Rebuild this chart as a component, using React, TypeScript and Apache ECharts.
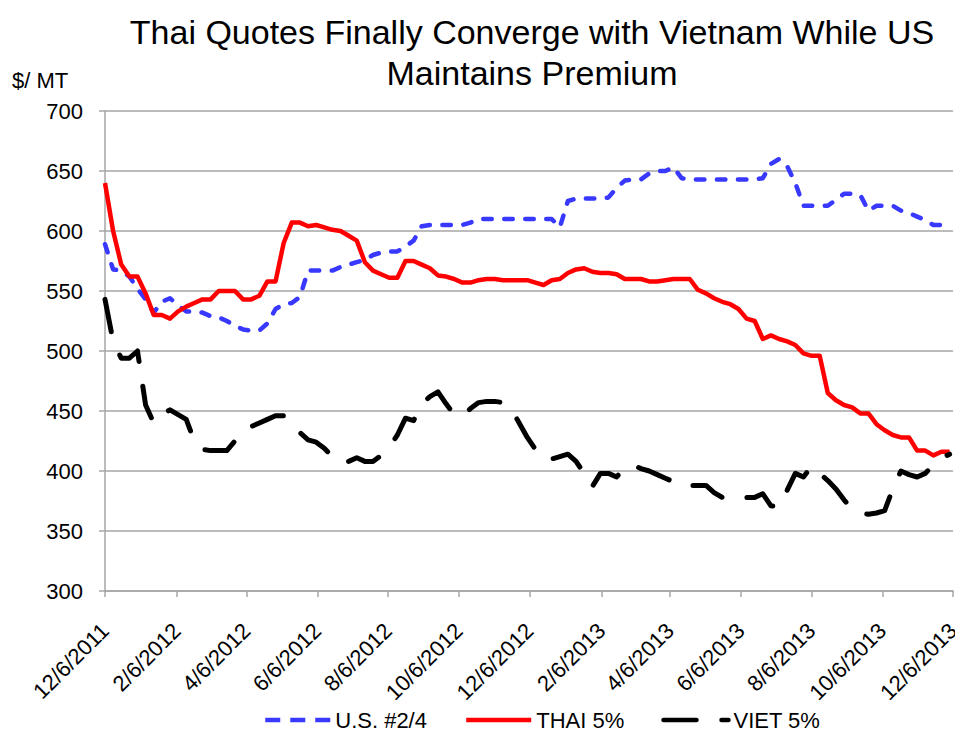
import React, { useEffect, useRef } from "react";
import * as echarts from "echarts";

// First quote date and weekly cadence of the series
const firstQuote = { year: 2011, month: 12, day: 6 };
const weeksShown = 105;

const tickLabels = [
  "12/6/2011", "2/6/2012", "4/6/2012", "6/6/2012", "8/6/2012", "10/6/2012",
  "12/6/2012", "2/6/2013", "4/6/2013", "6/6/2013", "8/6/2013", "10/6/2013", "12/6/2013",
];

const yTicks = { min: 300, max: 700, step: 50 };

const seriesNames = ["U.S. #2/4", "THAI 5%", "VIET 5%"];

const usValues = [
  589, 568, 567, 562, 552, 543, 532, 541, 544, 538,
  533, 533, 532, 529, 528, 525, 521, 518, 517, 517,
  523, 535, 539, 540, 545, 567, 567, 567, 567, 570,
  572, 574, 576, 580, 582, 583, 583, 587, 592, 604,
  605, 605, 605, 605, 605, 607, 610, 610, 610, 610,
  610, 610, 610, 610, 610, 610, 603, 625, 627, 627,
  627, 627, 628, 636, 642, 643, 643, 648, 650, 650,
  653, 644, 643, 643, 643, 643, 643, 643, 643, 643,
  643, 644, 656, 660, 654, 640, 621, 621, 621, 621,
  626, 631, 631, 630, 617, 621, 621, 621, 617, 615,
  612, 609, 605, 605, 608,
];

const thaiValues = [
  640, 600, 572, 562, 562, 548, 530, 530, 527, 533,
  537, 540, 543, 543, 550, 550, 550, 543, 543, 546,
  558, 558, 590, 607, 607, 604, 605, 603, 601, 600,
  596, 592, 574, 567, 564, 561, 561, 575, 575, 572,
  569, 563, 562, 560, 557, 557, 559, 560, 560, 559,
  559, 559, 559, 557, 555, 559, 560, 565, 568, 569,
  566, 565, 565, 564, 560, 560, 560, 558, 558, 559,
  560, 560, 560, 551, 548, 544, 541, 539, 535, 527,
  525, 510, 513, 510, 508, 505, 498, 496, 496, 465,
  459, 455, 453, 448, 448, 439, 434, 430, 428, 428,
  417, 417, 413, 416, 416,
];

const vietValues = [
  543, 508, 494, 494, 500, 455, 440, 447, 451, 447,
  443, 425, 418, 417, 417, 417, 425, 433, 437, 440,
  443, 446, 446, 438, 432, 426, 424, 419, 412, 407,
  408, 411, 408, 408, 413, 420, 430, 444, 442, 456,
  462, 466, 456, 447, 446, 452, 457, 458, 458, 457,
  452, 440, 428, 418, 410, 410, 412, 414, 408, 398,
  387, 398, 398, 395, 403, 405, 402, 400, 397, 394,
  391, 388, 388, 388, 388, 382, 378, 378, 378, 378,
  378, 381, 371, 370, 384, 398, 395, 404, 398, 392,
  385, 376, 368, 365, 364, 365, 367, 385, 400, 397,
  395, 398, 405, 411, 414,
];

const FONT = "'Liberation Sans', Arial, sans-serif";
const GRID_GRAY = "#a6a6a6";
const US_BLUE = "#3838ff";

function parseDate(s: string): number {
  const [m, d, y] = s.split("/").map(Number);
  return new Date(y, m - 1, d).getTime();
}

function fmtDate(v: number): string {
  const d = new Date(v);
  return `${d.getMonth() + 1}/${d.getDate()}/${d.getFullYear()}`;
}

export default function App() {
  const ref = useRef<HTMLDivElement>(null);

  useEffect(() => {
    if (!ref.current) return;
    const chart = echarts.init(ref.current, null, { renderer: "svg" });

    const weekDates: number[] = [];
    for (let i = 0; i < weeksShown; i++) {
      weekDates.push(
        new Date(firstQuote.year, firstQuote.month - 1, firstQuote.day + 7 * i).getTime()
      );
    }
    const tickValues = tickLabels.map(parseDate);
    const pair = (vals: number[]) => vals.map((v, i) => [weekDates[i], v]);

    chart.setOption({
      animation: false,
      backgroundColor: "#ffffff",
      textStyle: { fontFamily: FONT },
      grid: { left: 105, right: 6, top: 111, bottom: 149 },
      graphic: [
        {
          type: "text",
          x: 532,
          y: 32,
          style: {
            text: "Thai Quotes Finally Converge with Vietnam While US",
            font: `34px ${FONT}`,
            fill: "#000",
            textAlign: "center",
            textVerticalAlign: "middle",
          },
        },
        {
          type: "text",
          x: 532,
          y: 73,
          style: {
            text: "Maintains Premium",
            font: `34px ${FONT}`,
            fill: "#000",
            textAlign: "center",
            textVerticalAlign: "middle",
          },
        },
        {
          type: "text",
          x: 12,
          y: 80,
          style: {
            text: "$/ MT",
            font: `22px ${FONT}`,
            fill: "#000",
            textAlign: "left",
            textVerticalAlign: "middle",
          },
        },
      ],
      legend: {
        left: 258,
        top: 704,
        itemWidth: 65,
        itemHeight: 12,
        itemGap: 37,
        itemStyle: { opacity: 0 },
        lineStyle: { width: 4.5 },
        textStyle: { fontSize: 22, color: "#000", fontFamily: FONT },
        data: [
          { name: seriesNames[0], lineStyle: { type: [15, 10], width: 4.5, cap: "butt" } },
          { name: seriesNames[1] },
          { name: seriesNames[2] },
        ],
      },
      xAxis: {
        type: "value",
        min: tickValues[0],
        max: tickValues[tickValues.length - 1],
        axisLine: { show: true, lineStyle: { color: GRID_GRAY, width: 1.5 } },
        axisTick: {
          show: true,
          customValues: tickValues,
          length: 6,
          lineStyle: { color: GRID_GRAY, width: 1.5 },
        },
        axisLabel: {
          customValues: tickValues,
          rotate: 45,
          margin: 36,
          fontSize: 22,
          color: "#000",
          fontFamily: FONT,
          formatter: (v: number) => fmtDate(v),
        },
        splitLine: { show: false },
      },
      yAxis: {
        type: "value",
        min: yTicks.min,
        max: yTicks.max,
        interval: yTicks.step,
        axisLine: { show: true, lineStyle: { color: GRID_GRAY, width: 1.5 } },
        axisTick: { show: true, length: 6, lineStyle: { color: GRID_GRAY, width: 1.5 } },
        axisLabel: { fontSize: 22, color: "#000", margin: 22, fontFamily: FONT },
        splitLine: { show: true, lineStyle: { color: GRID_GRAY, width: 1.5 } },
      },
      series: [
        {
          name: seriesNames[0],
          type: "line",
          data: pair(usValues),
          symbol: "none",
          z: 3,
          lineStyle: { color: US_BLUE, width: 4.5, type: [8.5, 12.5], cap: "round", join: "round" },
          itemStyle: { color: US_BLUE },
        },
        {
          name: seriesNames[1],
          type: "line",
          data: pair(thaiValues),
          symbol: "none",
          z: 4,
          lineStyle: { color: "#ff0000", width: 4.5, type: "solid", join: "round" },
          itemStyle: { color: "#ff0000" },
        },
        {
          name: seriesNames[2],
          type: "line",
          data: pair(vietValues),
          symbol: "none",
          z: 5,
          lineStyle: { color: "#000000", width: 5, type: [33, 25], cap: "round", join: "round" },
          itemStyle: { color: "#000000" },
        },
      ],
    });

    return () => chart.dispose();
  }, []);

  return <div ref={ref} style={{ width: 963, height: 740, margin: -8 }} />;
}
